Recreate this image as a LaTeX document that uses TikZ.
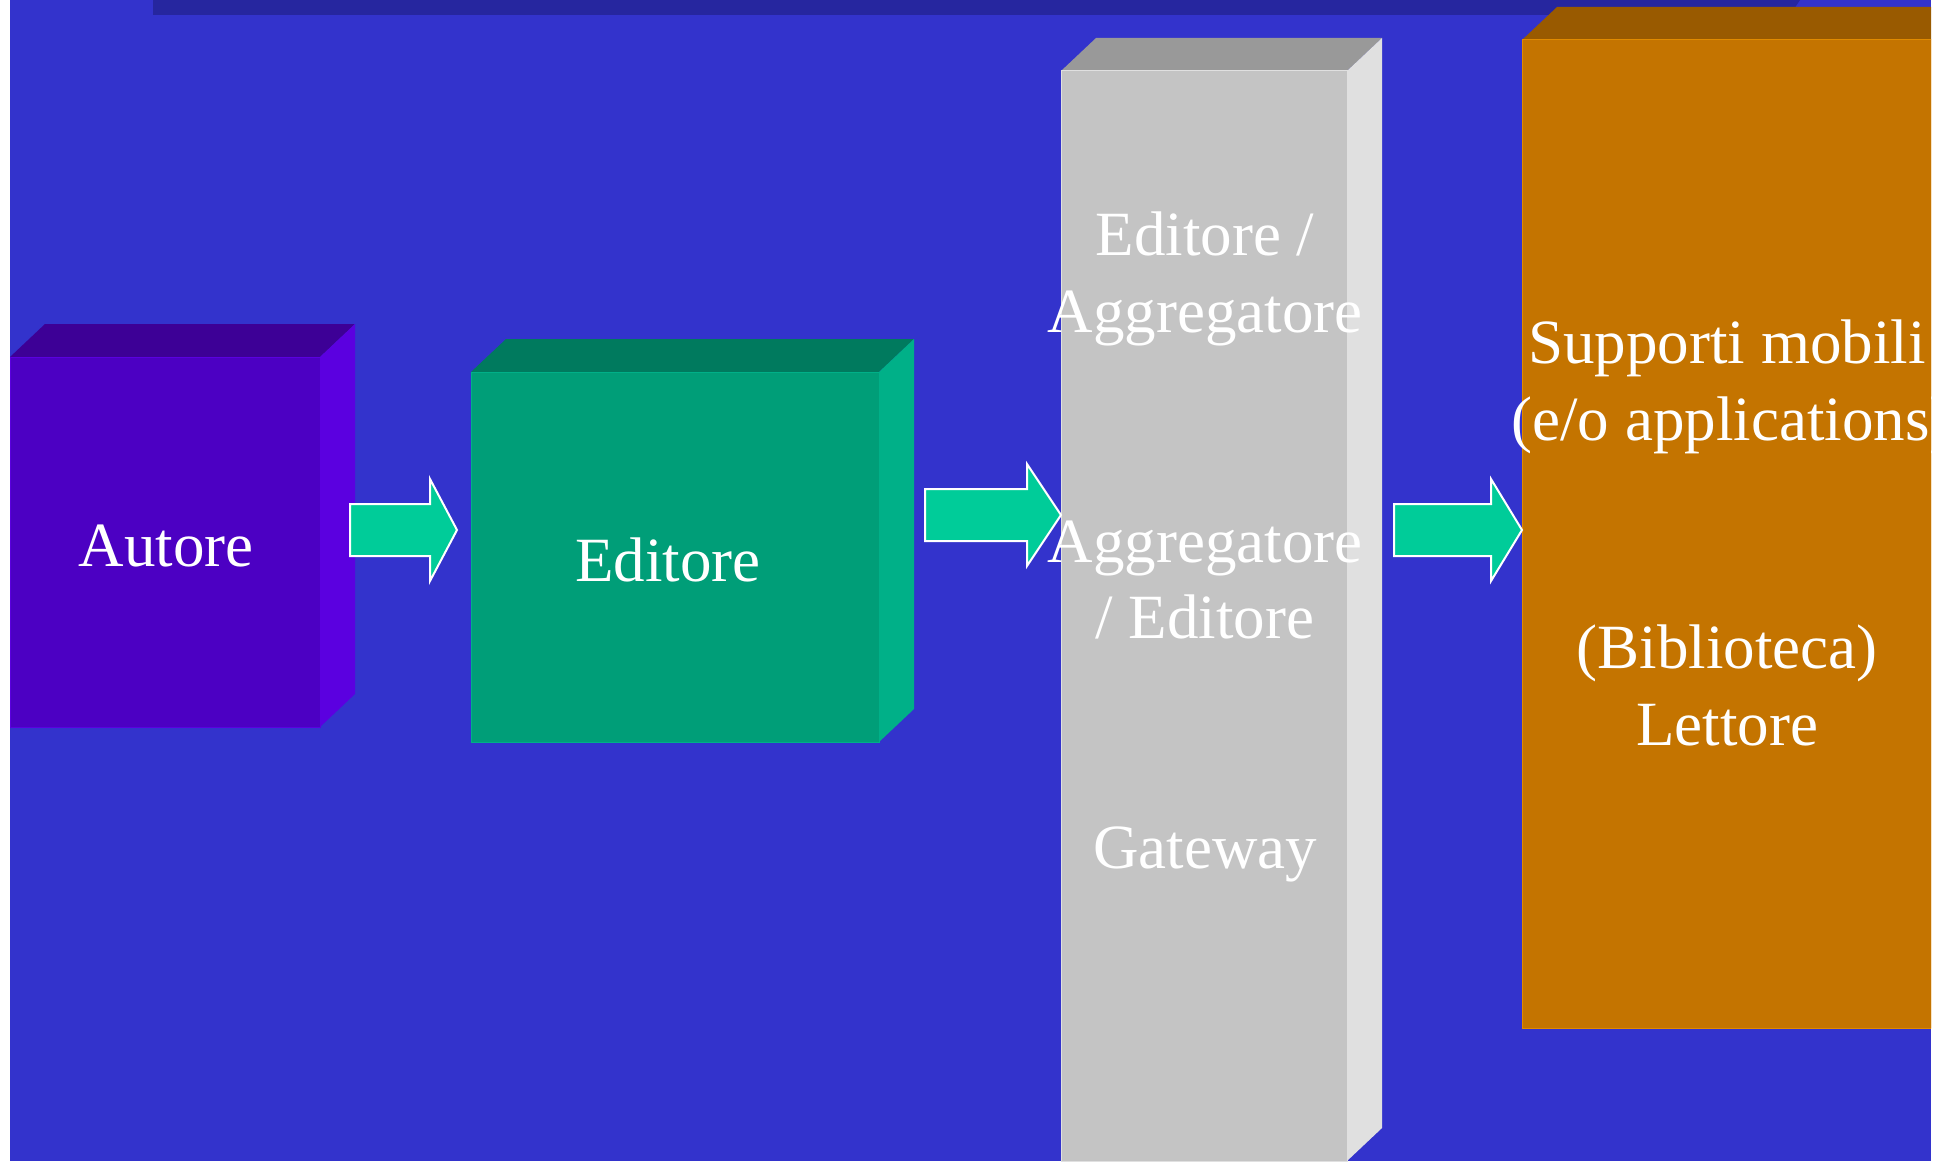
\documentclass[tikz,border=0pt]{standalone}
\usepackage{fontspec}
\setmainfont{Liberation Serif}
\definecolor{slideblue}{HTML}{3333CC}
\definecolor{bandblue}{HTML}{26269F}
\definecolor{autoreF}{HTML}{4C00C3}
\definecolor{autoreT}{HTML}{3D0096}
\definecolor{autoreS}{HTML}{5B00E0}
\definecolor{editoreF}{HTML}{009E78}
\definecolor{editoreT}{HTML}{007A5E}
\definecolor{editoreS}{HTML}{00B088}
\definecolor{gatewayF}{HTML}{C4C4C4}
\definecolor{gatewayT}{HTML}{999999}
\definecolor{gatewayS}{HTML}{E0E0E0}
\definecolor{lettoreF}{HTML}{C47400}
\definecolor{lettoreT}{HTML}{995A00}
\definecolor{lettoreS}{HTML}{E08A00}
\definecolor{arrowgreen}{HTML}{00CC99}
\tikzset{
  boxtext/.style={text=white, font=\fontsize{31.5}{38}\selectfont, inner sep=0pt, anchor=base},
  flow/.style={fill=arrowgreen, draw=white, line width=1pt, line join=miter}
}

\begin{document}
\begin{tikzpicture}[x=0.5pt, y=-0.5pt]
	\useasboundingbox (0,0) rectangle (1952,1161);
	\clip (10,0) rectangle (1931,1161);
	\fill[slideblue] (10,0) rectangle (1931,1161);
	\fill[bandblue] (153,0) -- (1800,0) -- (1790,15) -- (153,15) -- cycle;
	\foreach \x/\y/\w/\h/\c in {10/357/310/370/autore, 471/372/408/370/editore, 1061/71/286/1090/gateway, 1522/40/409/988/lettore}{
		\fill[\c T] (\x,\y) -- ++(35,-33) -- ++(\w,0) -- ++(-35,33) -- cycle;
		\fill[\c S] (\x+\w,\y) -- ++(35,-33) -- ++(0,\h) -- ++(-35,33) -- cycle;
		\filldraw[fill=\c F, draw=\c S, line width=0.5pt] (\x,\y) rectangle ++(\w,\h);
	}
	\foreach \a/\b/\t/\y in {350/430/457/530, 925/1027/1061/515, 1394/1491/1522/530}
	\draw[flow] (\a,\y-26) -- (\b,\y-26) -- (\b,\y-51) -- (\t,\y) -- (\b,\y+51) -- (\b,\y+26) -- (\a,\y+26) -- cycle;
	\node[boxtext] (autore) at (166,566) {Autore};
	\node[boxtext] (editore) at (668,581) {Editore};
	\node[boxtext] (gw1) at (1205,255) {Editore /};
	\node[boxtext] (gw2) at (1205,332) {Aggregatore};
	\node[boxtext] (gw3) at (1205,562) {Aggregatore};
	\node[boxtext] (gw4) at (1205,638) {/ Editore};
	\node[boxtext] (gw5) at (1205,868) {Gateway};
	\node[boxtext] (let1) at (1727,363) {Supporti mobili};
	\node[boxtext] (let2) at (1731,440) {(e/o applications)};
	\node[boxtext] (let3) at (1727,668) {(Biblioteca)};
	\node[boxtext] (let4) at (1727,745) {Lettore};
\end{tikzpicture}
\end{document}
